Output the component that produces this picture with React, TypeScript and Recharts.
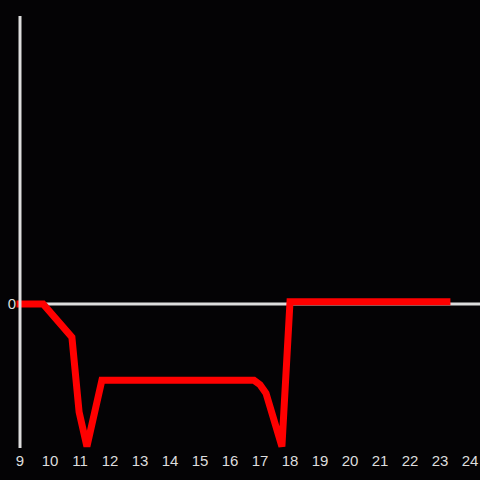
import { LineChart, Line, XAxis, YAxis, ReferenceLine } from "recharts";

const HOURS = [9, 9.77, 10.73, 10.97, 11.23, 11.73, 16.8, 17.0, 17.2, 17.73, 18.0, 23.23];
const VALUES = [0, 0, -0.23, -0.75, -0.99, -0.53, -0.53, -0.56, -0.62, -0.99, 0.015, 0.015];
const X_TICKS = [9, 10, 11, 12, 13, 14, 15, 16, 17, 18, 19, 20, 21, 22, 23, 24];
const Y_TICKS = [0];

const DATA = HOURS.map((h, i) => ({ h, v: VALUES[i] }));

const tickStyle = { fill: "#dddddd", fontSize: 15, fontFamily: "Liberation Sans, Arial, sans-serif" };

export default function App() {
  return (
    <div style={{ position: "absolute", left: 0, top: 0, width: 480, height: 480, background: "#040305" }}>
      <LineChart width={480} height={480} data={DATA} margin={{ top: 16, right: 0, left: 0, bottom: 0 }}>
        <XAxis
          dataKey="h"
          type="number"
          domain={[9, 24.333]}
          ticks={X_TICKS}
          interval={0}
          axisLine={false}
          tickLine={false}
          tickSize={0}
          tickMargin={7}
          height={32}
          tick={tickStyle}
        />
        <YAxis
          type="number"
          domain={[-1, 2]}
          ticks={Y_TICKS}
          width={20}
          axisLine={{ stroke: "#dddddd", strokeWidth: 3 }}
          tickLine={false}
          tickSize={0}
          tickMargin={4}
          tick={tickStyle}
        />
        <ReferenceLine y={0} stroke="#dddddd" strokeWidth={3} />
        <Line
          dataKey="v"
          type="linear"
          stroke="#ff0000"
          strokeWidth={7}
          strokeLinecap="square"
          dot={false}
          activeDot={false}
          isAnimationActive={false}
        />
      </LineChart>
    </div>
  );
}
